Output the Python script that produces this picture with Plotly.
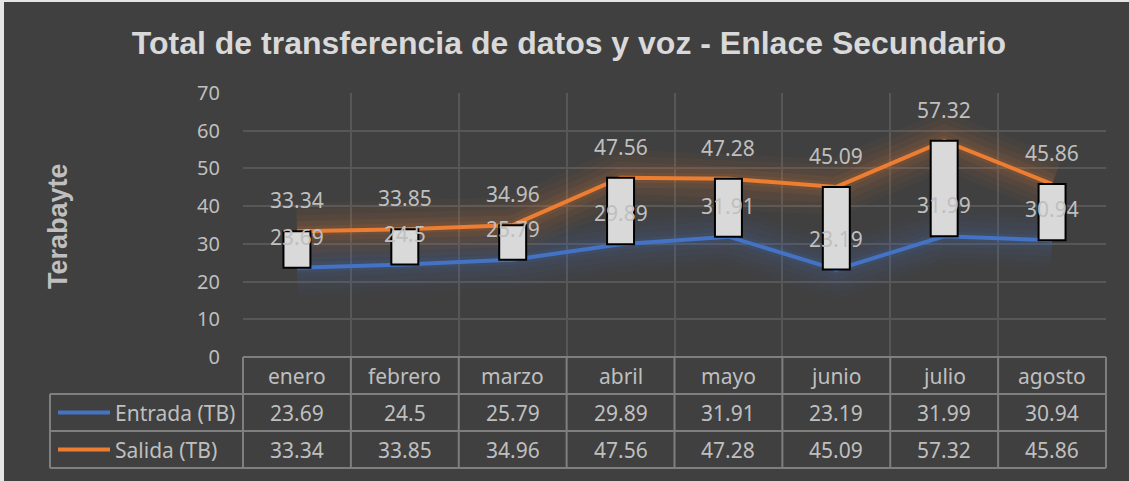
import plotly.graph_objects as go

meses = ['enero', 'febrero', 'marzo', 'abril', 'mayo', 'junio', 'julio', 'agosto']
entrada = [23.69, 24.5, 25.79, 29.89, 31.91, 23.19, 31.99, 30.94]
salida = [33.34, 33.85, 34.96, 47.56, 47.28, 45.09, 57.32, 45.86]
y_ticks = [0, 10, 20, 30, 40, 50, 60, 70]

BG = '#404040'
AZUL = '#4472c4'
NARANJA = '#ed7d31'
TXT = '#bfbfbf'
GRID = '#575757'
TABLA = '#7f7f7f'
FONT = 'Noto Sans'

W, H = 1129, 481
L, R, T, B = 243, 23, 93, 124
pw, ph = W - L - R, H - T - B


def px_x(p):
    return (p - L) / pw


def px_y(p):
    return (H - B - p) / ph


fig = go.Figure()

# glow
for serie, col in [(entrada, AZUL), (salida, NARANJA)]:
    for w, op in [(56, 0.03), (44, 0.04), (32, 0.05), (20, 0.07), (10, 0.10)]:
        fig.add_trace(go.Scatter(x=meses, y=serie, mode='lines',
                                 line=dict(color=col, width=w), opacity=op,
                                 hoverinfo='skip', showlegend=False))

fig.add_trace(go.Scatter(x=meses, y=entrada, mode='lines', name='Entrada (TB)',
                         line=dict(color=AZUL, width=4), showlegend=False))
fig.add_trace(go.Scatter(x=meses, y=salida, mode='lines', name='Salida (TB)',
                         line=dict(color=NARANJA, width=4), showlegend=False))

# barras arriba/abajo (en ejes superpuestos para quedar encima de las líneas)
fig.add_trace(go.Bar(x=meses, y=[s - e for s, e in zip(salida, entrada)], base=entrada,
                     width=0.25, xaxis='x2', yaxis='y2',
                     marker=dict(color='#d9d9d9', line=dict(color='black', width=2)),
                     hoverinfo='skip', showlegend=False))

# etiquetas de datos
for serie in (entrada, salida):
    for m, v in zip(meses, serie):
        fig.add_annotation(x=m, y=v, text=f'{v:g}', showarrow=False, yshift=31,
                           xanchor='center', yanchor='middle',
                           font=dict(family=FONT, size=21, color=TXT))

# tabla de datos
y_fila = [px_y(375.5), px_y(412.5), px_y(449.5)]
for m in meses:
    fig.add_annotation(x=m, y=y_fila[0], yref='paper', text=m, showarrow=False,
                       xanchor='center', yanchor='middle',
                       font=dict(family=FONT, size=21, color=TXT))
for serie, yy in [(entrada, y_fila[1]), (salida, y_fila[2])]:
    for m, v in zip(meses, serie):
        fig.add_annotation(x=m, y=yy, yref='paper', text=f'{v:g}', showarrow=False,
                           xanchor='center', yanchor='middle',
                           font=dict(family=FONT, size=21, color=TXT))

for nombre, col, yy in [('Entrada (TB)', AZUL, y_fila[1]), ('Salida (TB)', NARANJA, y_fila[2])]:
    fig.add_shape(type='line', xref='paper', yref='paper', x0=px_x(58), x1=px_x(110),
                  y0=yy, y1=yy, line=dict(color=col, width=4))
    fig.add_annotation(x=px_x(113), y=yy, xref='paper', yref='paper', text=nombre,
                       xanchor='left', yanchor='middle', showarrow=False,
                       font=dict(family=FONT, size=21, color=TXT))

lin = dict(color=TABLA, width=2)
fig.add_shape(type='line', xref='paper', yref='paper', x0=0, x1=1, y0=0, y1=0, line=lin)
for p in (394, 431, 468):
    fig.add_shape(type='line', xref='paper', yref='paper', x0=px_x(50), x1=1,
                  y0=px_y(p), y1=px_y(p), line=lin)
fig.add_shape(type='line', xref='paper', yref='paper', x0=px_x(50), x1=px_x(50),
              y0=px_y(394), y1=px_y(468), line=lin)
for i in range(len(meses) + 1):
    fig.add_shape(type='line', xref='paper', yref='paper', x0=i / len(meses), x1=i / len(meses),
                  y0=0, y1=px_y(468), line=lin)

# borde de la captura
fig.add_shape(type='rect', xref='paper', yref='paper', x0=px_x(0), x1=px_x(4),
              y0=px_y(481), y1=px_y(0), fillcolor='#e6e6e6', line=dict(width=0))
fig.add_shape(type='rect', xref='paper', yref='paper', x0=px_x(0), x1=px_x(1129),
              y0=px_y(2), y1=px_y(0), fillcolor='#e6e6e6', line=dict(width=0))

fig.add_annotation(x=px_x(58), y=px_y(226), xref='paper', yref='paper', text='<b>Terabayte</b>',
                   textangle=-90, showarrow=False, xanchor='center', yanchor='middle',
                   font=dict(family='Liberation Sans', size=27, color=TXT))

fig.update_layout(
    width=W, height=H,
    margin=dict(l=L, r=R, t=T, b=B),
    paper_bgcolor=BG, plot_bgcolor=BG,
    title=dict(text='<b>Total de transferencia de datos y voz - Enlace Secundario</b>',
               x=569 / W, xanchor='center', y=1 - 43 / H, yanchor='middle',
               font=dict(family='Liberation Sans', size=32, color='#d9d9d9')),
    xaxis=dict(type='category', range=[-0.5, len(meses) - 0.5], tickson='boundaries',
               showgrid=True, gridcolor=GRID, gridwidth=2, showticklabels=False,
               ticks='', zeroline=False, fixedrange=True),
    yaxis=dict(range=[0, 70], tickvals=y_ticks, showgrid=True, gridcolor=GRID, gridwidth=2,
               zeroline=False, ticklabelstandoff=22,
               tickfont=dict(family=FONT, size=20, color=TXT), fixedrange=True),
    xaxis2=dict(type='category', range=[-0.5, len(meses) - 0.5], overlaying='x',
                visible=False, fixedrange=True),
    yaxis2=dict(range=[0, 70], overlaying='y', visible=False, fixedrange=True),
    showlegend=False,
)

fig.write_html('out.html', config={'displayModeBar': False},
               post_script="document.body.style.margin='0';document.body.style.overflow='hidden';")
